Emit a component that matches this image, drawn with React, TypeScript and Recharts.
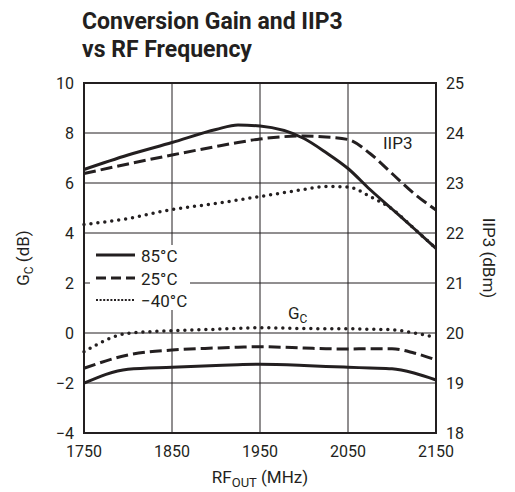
import { LineChart, Line, XAxis, YAxis, CartesianGrid, ReferenceArea } from "recharts";

const freq = [1750, 1800, 1850, 1900, 1925, 1950, 2000, 2025, 2050, 2075, 2100, 2125, 2150];

// IIP3 (dBm), right axis
const iip3Hot = [23.27, 23.56, 23.81, 24.07, 24.16, 24.14, 23.89, 23.61, 23.29, 22.87, 22.48, 22.09, 21.69];
const iip3Room = [23.19, 23.38, 23.56, 23.73, 23.81, 23.88, 23.94, 23.92, 23.87, 23.59, 23.19, 22.79, 22.46];
const iip3Cold = [22.17, 22.29, 22.47, 22.59, 22.66, 22.73, 22.87, 22.93, 22.92, 22.73, 22.48, 22.09, 21.69];

// conversion gain (dB), left axis
const gcHot = [-2.01, -1.45, -1.37, -1.3, -1.27, -1.25, -1.3, -1.34, -1.37, -1.4, -1.43, -1.6, -1.88];
const gcRoom = [-1.41, -0.88, -0.68, -0.6, -0.57, -0.55, -0.6, -0.63, -0.64, -0.63, -0.63, -0.8, -1.08];
const gcCold = [-0.75, -0.01, 0.09, 0.15, 0.19, 0.21, 0.18, 0.17, 0.17, 0.15, 0.13, 0.0, -0.17];

const xTicks = [1750, 1850, 1950, 2050, 2150];
const leftTicks = [-4, -2, 0, 2, 4, 6, 8, 10];
const rightTicks = [18, 19, 20, 21, 22, 23, 24, 25];

const legendItems = [
  { label: "85°C", dash: undefined },
  { label: "25°C", dash: "10 5" },
  { label: "\u221240°C", dash: "2 1.6" },
];

const data = freq.map((f, i) => ({
  f,
  iip3Hot: iip3Hot[i],
  iip3Room: iip3Room[i],
  iip3Cold: iip3Cold[i],
  gcHot: gcHot[i],
  gcRoom: gcRoom[i],
  gcCold: gcCold[i],
}));

const INK = "#231f20";
const FONT = "Roboto, 'Liberation Sans', sans-serif";
const DASH = "12 5";
const DOT = "0 7";

const fmtMinus = (v: number) => (v < 0 ? `\u2212${Math.abs(v)}` : `${v}`);

const XLabel = ({ viewBox }: any) => {
  const cx = viewBox.x + viewBox.width / 2;
  const y = viewBox.y + 50;
  return (
    <text x={cx} y={y} textAnchor="middle" fontSize={17} fill={INK} fontFamily={FONT}>
      RF<tspan dy={4} fontSize={13}>OUT</tspan>
      <tspan dy={-4}> (MHz)</tspan>
    </text>
  );
};

const LeftLabel = ({ viewBox }: any) => {
  const x = viewBox.x + 29;
  const y = viewBox.y + viewBox.height / 2;
  return (
    <text x={x} y={y} textAnchor="middle" fontSize={17} fill={INK} fontFamily={FONT} transform={`rotate(-90 ${x} ${y})`}>
      G<tspan dy={4} fontSize={12}>C</tspan>
      <tspan dy={-4}> (dB)</tspan>
    </text>
  );
};

const RightLabel = ({ viewBox }: any) => {
  const x = viewBox.x + 47;
  const y = viewBox.y + viewBox.height / 2;
  return (
    <text x={x} y={y} textAnchor="middle" fontSize={17} fill={INK} fontFamily={FONT} transform={`rotate(90 ${x} ${y})`}>
      IIP3 (dBm)
    </text>
  );
};

export default function App() {
  const tick = { fontSize: 16, fill: INK, fontFamily: FONT };
  return (
    <div style={{ position: "absolute", left: 0, top: 0, width: 515, height: 492, background: "#fff" }}>
      <LineChart width={515} height={492} data={data} margin={{ top: 83, right: 0, bottom: 0, left: 0 }}>
        <CartesianGrid stroke={INK} strokeWidth={1} yAxisId="left" />
        <XAxis
          dataKey="f"
          type="number"
          domain={[1750, 2150]}
          ticks={xTicks}
          height={59}
          tickLine={false}
          tickSize={0}
          tickMargin={13}
          axisLine={false}
          tick={tick}
          label={<XLabel />}
        />
        <YAxis
          yAxisId="left"
          domain={[-4, 10]}
          ticks={leftTicks}
          width={84}
          tickLine={false}
          tickSize={0}
          tickMargin={10}
          axisLine={false}
          tick={tick}
          tickFormatter={fmtMinus}
          label={<LeftLabel />}
        />
        <YAxis
          yAxisId="right"
          orientation="right"
          domain={[18, 25]}
          ticks={rightTicks}
          width={79}
          tickLine={false}
          tickSize={0}
          tickMargin={10}
          axisLine={false}
          tick={tick}
          label={<RightLabel />}
        />
        <ReferenceArea yAxisId="left" x1={1750} x2={2150} y1={-4} y2={10} fill="none" stroke={INK} strokeWidth={2} />
        <Line yAxisId="right" dataKey="iip3Hot" type="monotone" stroke={INK} strokeWidth={3} dot={false} isAnimationActive={false} />
        <Line yAxisId="right" dataKey="iip3Room" type="monotone" stroke={INK} strokeWidth={3} strokeDasharray={DASH} dot={false} isAnimationActive={false} />
        <Line yAxisId="right" dataKey="iip3Cold" type="monotone" stroke={INK} strokeWidth={3.5} strokeDasharray={DOT} strokeLinecap="round" dot={false} isAnimationActive={false} />
        <Line yAxisId="left" dataKey="gcHot" type="monotone" stroke={INK} strokeWidth={3} dot={false} isAnimationActive={false} />
        <Line yAxisId="left" dataKey="gcRoom" type="monotone" stroke={INK} strokeWidth={3} strokeDasharray={DASH} dot={false} isAnimationActive={false} />
        <Line yAxisId="left" dataKey="gcCold" type="monotone" stroke={INK} strokeWidth={3.5} strokeDasharray={DOT} strokeLinecap="round" dot={false} isAnimationActive={false} />
      </LineChart>

      {/* title */}
      <div
        style={{
          position: "absolute",
          left: 82,
          top: 8,
          fontFamily: FONT,
          fontWeight: "bold",
          fontSize: 23,
          lineHeight: "28px",
          color: INK,
        }}
      >
        Conversion Gain and IIP3
        <br />
        vs RF Frequency
      </div>

      {/* curve annotations */}
      <div style={{ position: "absolute", left: 383, top: 133, fontFamily: FONT, fontSize: 17, color: INK, lineHeight: "20px" }}>
        IIP3
      </div>
      <div style={{ position: "absolute", left: 288, top: 303, fontFamily: FONT, fontSize: 17, color: INK, lineHeight: "20px" }}>
        G<sub style={{ fontSize: 12, verticalAlign: "-4px" }}>C</sub>
      </div>

      {/* legend */}
      <div style={{ position: "absolute", left: 90, top: 245, width: 100, height: 65, background: "#fff" }}>
        {legendItems.map((item, i) => (
          <div key={item.label} style={{ position: "absolute", left: 0, top: i * 22.5, height: 22, display: "flex", alignItems: "center" }}>
            <svg width={50} height={22} style={{ display: "block" }}>
              <line x1={6} x2={45} y1={10} y2={10} stroke={INK} strokeWidth={i === 2 ? 2.2 : 3} strokeDasharray={item.dash} />
            </svg>
            <span style={{ fontFamily: FONT, fontSize: 17, color: INK, marginLeft: 1, lineHeight: "22px" }}>{item.label}</span>
          </div>
        ))}
      </div>
    </div>
  );
}
